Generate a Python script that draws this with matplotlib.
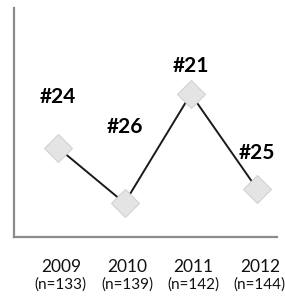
import matplotlib
matplotlib.use('Agg')
import matplotlib.pyplot as plt
import matplotlib.transforms as mtransforms

years = ['2009', '2010', '2011', '2012']
counts = ['(n=133)', '(n=139)', '(n=142)', '(n=144)']
ranks = ['#24', '#26', '#21', '#25']
# relative height of each point
scores = [89, 34, 143, 48]

# label offsets above each point (points)
label_dy = [37, 55, 20, 26]

plt.rcParams['font.family'] = ['Lato', 'DejaVu Sans']

fig = plt.figure(figsize=(2.85, 3.0), dpi=100)
ax = fig.add_axes([14 / 285, 63 / 300, 263 / 285, 229 / 300])

xs = list(range(len(years)))
ax.plot(xs, scores, color='#1a1a1a', lw=1.4, zorder=2)
ax.plot(xs, scores, ls='none', marker='D', ms=14, mfc='#e4e4e4',
        mec='#d2d2d2', mew=0.8, zorder=3)

for x, y, r, dy in zip(xs, scores, ranks, label_dy):
    ax.annotate(r, (x, y), xytext=(0, dy), textcoords='offset points',
                ha='center', va='center', fontsize=15, fontweight='bold',
                color='black')

ax.set_xlim(-0.668, 3.30)
ax.set_ylim(0, 229)
ax.set_xticks([])
ax.set_yticks([])
for side in ['top', 'right']:
    ax.spines[side].set_visible(False)
for side in ['left', 'bottom']:
    ax.spines[side].set_color('#8c8c8c')
    ax.spines[side].set_linewidth(1.6)

trans = mtransforms.blended_transform_factory(ax.transData, fig.transFigure)
for x, yr, n in zip(xs, years, counts):
    ax.text(x + 0.04, 1 - 267.5 / 300, yr, transform=trans, ha='center',
            va='center', fontsize=12.5, color='#111111')
    ax.text(x + 0.04, 1 - 284.5 / 300, n, transform=trans, ha='center',
            va='center', fontsize=11, color='#111111')

fig.savefig('out.png', dpi=100)
